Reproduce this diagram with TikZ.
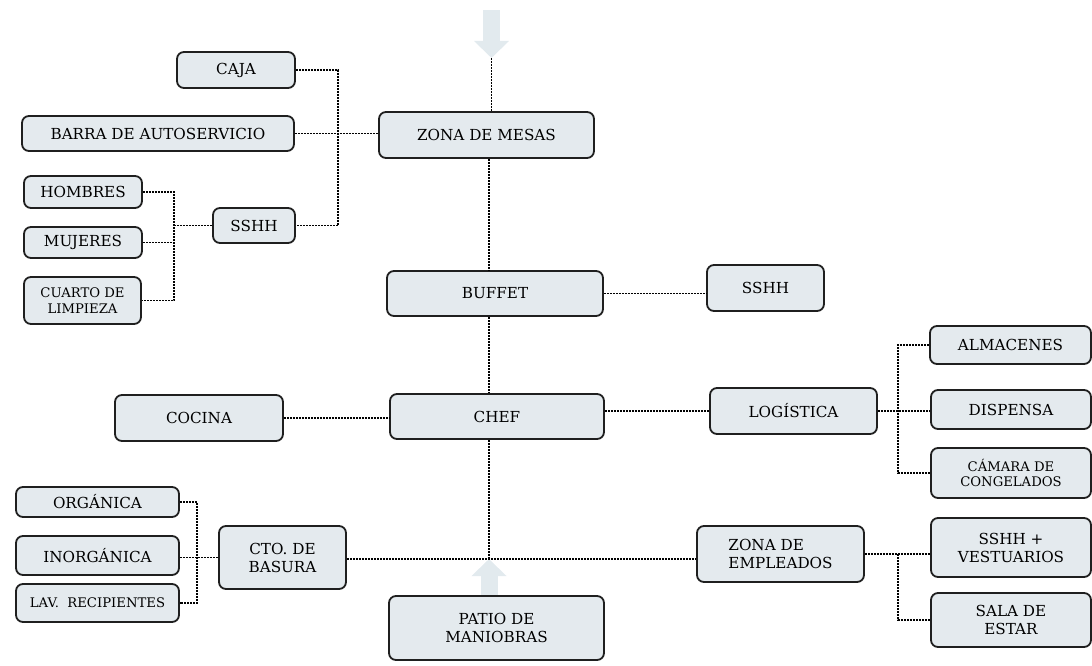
\documentclass[tikz,border=0pt]{standalone}
\usepackage{fontspec}
\setmainfont{DejaVu Serif}
\usetikzlibrary{arrows.meta}
\definecolor{relleno}{HTML}{E4EAEE}
\definecolor{nube}{HTML}{E2EAEE}

\begin{document}
\begin{tikzpicture}[x=1pt, y=-1pt,
  bloque/.style={draw=black!88, line width=1.8pt, fill=relleno, rounded corners=7pt,
    align=center, inner sep=2pt, font=\fontsize{15.2}{18}\selectfont},
  chico/.style={font=\fontsize{13.2}{15.5}\selectfont},
  enlace/.style={line width=1.8pt, dash pattern=on 1.7pt off 1.3pt},
  acceso/.style={line width=17pt, nube, -{Triangle[width=34pt,length=17pt]}}]
\useasboundingbox (0,0) rectangle (1092,666);
\coordinate (eje) at (489,0);
\coordinate (cruce) at (489,559);
\coordinate (cima) at (491.5,58);
\coordinate (llaveA) at (338,0);
\coordinate (llaveB) at (174,0);
\coordinate (llaveC) at (898,0);
\coordinate (llaveD) at (197,0);
% flechas de acceso
\draw[acceso] (491.5,10) -- (cima);
\draw[acceso] (489,596) -- (cruce);
% eje central
\node[bloque, minimum width=215pt, minimum height=46pt] (zmesas) at (486.5,135) {ZONA DE MESAS};
\node[bloque, minimum width=216pt, minimum height=45pt] (buffet) at (495,293.5) {BUFFET};
\node[bloque, minimum width=214pt, minimum height=45pt] (chef) at (497,416.5) {CHEF};
\node[bloque, minimum width=215pt, minimum height=64pt] (patio) at (496.5,628) {PATIO DE\\MANIOBRAS};
% zona de mesas
\node[bloque, minimum width=118pt, minimum height=36pt] (caja) at (236,70) {CAJA};
\node[bloque, minimum width=272pt, minimum height=35pt] (barra) at (158,133.5) {BARRA DE AUTOSERVICIO};
\node[bloque, minimum width=82pt, minimum height=35pt] (sshhA) at (254,225.5) {SSHH};
\node[bloque, minimum width=118pt, minimum height=32pt] (hombres) at (83,192) {HOMBRES};
\node[bloque, minimum width=118pt, minimum height=31pt] (mujeres) at (83,242.5) {MUJERES};
\node[bloque, chico, minimum width=117pt, minimum height=47pt] (cuarto) at (82.5,300.5) {CUARTO DE\\LIMPIEZA};
% buffet y chef
\node[bloque, minimum width=117pt, minimum height=46pt] (sshhB) at (765.5,288) {SSHH};
\node[bloque, minimum width=168pt, minimum height=46pt] (cocina) at (199,418) {COCINA};
\node[bloque, minimum width=167pt, minimum height=46pt] (logistica) at (793.5,411) {LOGÍSTICA};
\node[bloque, minimum width=161pt, minimum height=38pt] (almacenes) at (1010.5,345) {ALMACENES};
\node[bloque, minimum width=160pt, minimum height=39pt] (dispensa) at (1011,409.5) {DISPENSA};
\node[bloque, chico, minimum width=160pt, minimum height=50pt] (camara) at (1011,473) {CÁMARA DE\\CONGELADOS};
% servicio
\node[bloque, minimum width=163pt, minimum height=30pt] (organica) at (97.5,502) {ORGÁNICA};
\node[bloque, minimum width=163pt, minimum height=39pt] (inorganica) at (97.5,555.5) {INORGÁNICA};
\node[bloque, chico, minimum width=163pt, minimum height=38pt] (lavado) at (97.5,603) {LAV.~~RECIPIENTES};
\node[bloque, minimum width=127pt, minimum height=63pt] (basura) at (282.5,557.5) {CTO. DE\\BASURA};
\node[bloque, align=left, minimum width=167pt, minimum height=56pt] (zempleados) at (780.5,554) {ZONA DE\\EMPLEADOS};
\node[bloque, minimum width=160pt, minimum height=59pt] (vestuarios) at (1011,547.5) {SSHH +\\VESTUARIOS};
\node[bloque, minimum width=160pt, minimum height=54pt] (sala) at (1011,620) {SALA DE\\ESTAR};
% enlaces
\draw[enlace] (cima) -- (cima |- zmesas.north);
\draw[enlace] (eje |- zmesas.south) -- (eje |- buffet.north);
\draw[enlace] (eje |- buffet.south) -- (eje |- chef.north);
\draw[enlace] (eje |- chef.south) -- (cruce);
\draw[enlace] (cruce -| basura.east) -- (cruce -| zempleados.west);
\draw[enlace] (caja.east) -| (llaveA |- sshhA.east) -- (sshhA.east);
\draw[enlace] (barra.east) -- (barra.east -| zmesas.west);
\draw[enlace] (hombres.east) -| (llaveB |- cuarto.east) -- (cuarto.east);
\draw[enlace] (mujeres.east) -- (mujeres.east -| llaveB);
\draw[enlace] (sshhA.west) -- (sshhA.west -| llaveB);
\draw[enlace] (buffet.east) -- (buffet.east -| sshhB.west);
\draw[enlace] (cocina.east) -- (cocina.east -| chef.west);
\draw[enlace] (logistica.west -| chef.east) -- (logistica.west);
\draw[enlace] (almacenes.west) -| (llaveC |- camara.west) -- (camara.west);
\draw[enlace] (logistica.east) -- (logistica.east -| dispensa.west);
\draw[enlace] (zempleados.east) -- (zempleados.east -| vestuarios.west);
\draw[enlace] (llaveC |- zempleados.east) |- (sala.west);
\draw[enlace] (organica.east) -| (llaveD |- lavado.east) -- (lavado.east);
\draw[enlace] (basura.west) -- (basura.west -| inorganica.east);
\end{tikzpicture}
\end{document}
